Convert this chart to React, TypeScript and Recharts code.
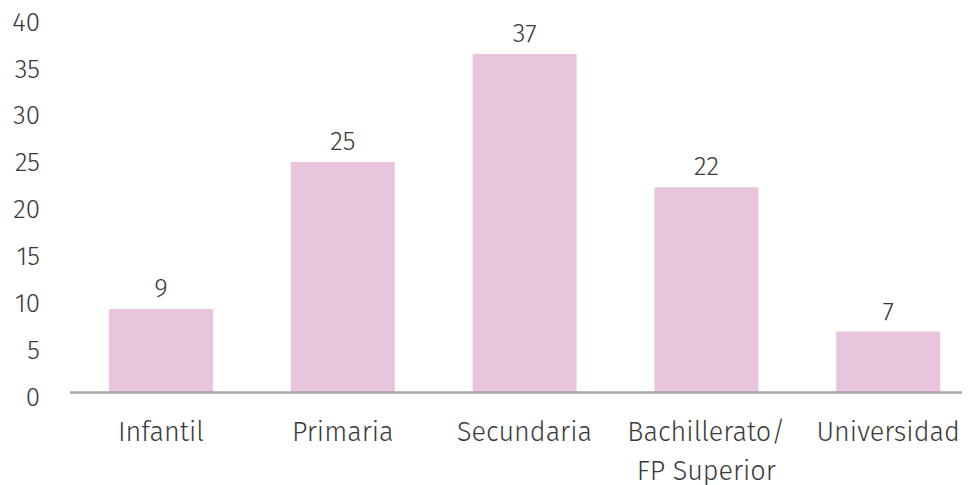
import React from "react";
import { BarChart, Bar, XAxis, YAxis, LabelList } from "recharts";

const categories = ["Infantil", "Primaria", "Secundaria", "Bachillerato/\nFP Superior", "Universidad"];
const values = [8.9, 24.6, 36.1, 21.9, 6.5];
const valueLabels = ["9", "25", "37", "22", "7"];
const yTicks = [0, 5, 10, 15, 20, 25, 30, 35, 40];

const data = categories.map((c, i) => ({ name: c, value: values[i], label: valueLabels[i] }));

const FONT = "'Fira Sans', 'Open Sans', sans-serif";
const TEXT = "#3a3a3a";

const XTick = (props: any) => {
  const { x, y, payload } = props;
  const lines = String(payload.value).split("\n");
  return (
    <text
      x={x}
      y={y}
      textAnchor="middle"
      fontSize={27}
      fontFamily={FONT}
      fontWeight={300}
      fill={TEXT}
    >
      {lines.map((l, i) => (
        <tspan key={i} x={x} dy={i === 0 ? 48 : 39}>
          {l}
        </tspan>
      ))}
    </text>
  );
};

export default function App() {
  return (
    <div style={{ width: 962, height: 477, overflow: "hidden", fontFamily: FONT }}>
      <BarChart
        width={971}
        height={477}
        data={data}
        margin={{ top: 9.5, right: 0, bottom: 0, left: 0 }}
        barSize={104}
      >
        <YAxis
          width={62}
          domain={[0, 40]}
          ticks={yTicks}
          axisLine={false}
          tickLine={false}
          tickSize={0}
          tickMargin={30}
          tick={{ fontSize: 26, fill: TEXT, fontFamily: FONT, fontWeight: 300, dy: 4 }}
          interval={0}
        />
        <XAxis
          dataKey="name"
          height={92.5}
          axisLine={{ stroke: "#a6a6a6", strokeWidth: 2.5 }}
          tickLine={false}
          tickSize={0}
          tickMargin={0}
          interval={0}
          tick={<XTick />}
        />
        <Bar dataKey="value" fill="#e9c4dd" isAnimationActive={false}>
          <LabelList
            dataKey="label"
            position="top"
            offset={12}
            style={{ fontSize: 26, fill: TEXT, fontFamily: FONT, fontWeight: 300 }}
          />
        </Bar>
      </BarChart>
    </div>
  );
}
